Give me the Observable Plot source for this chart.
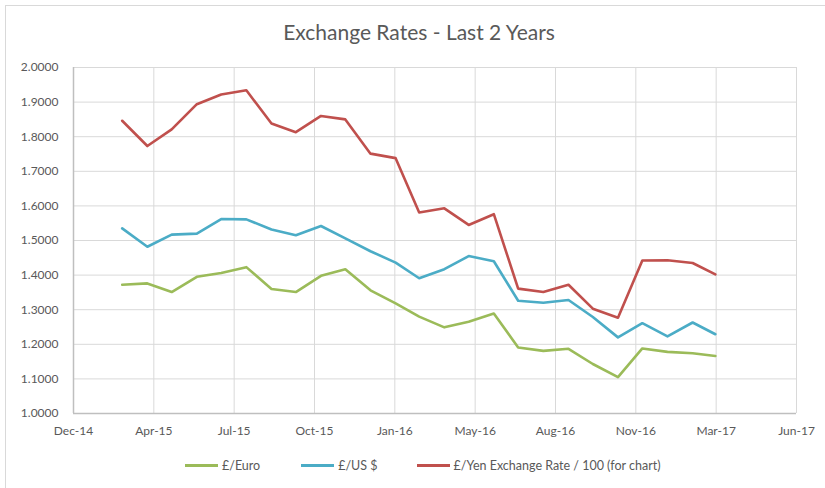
<!DOCTYPE html>
<html>
<head>
<meta charset="utf-8">
<script src="https://cdn.jsdelivr.net/npm/d3@7"></script>
<script src="https://cdn.jsdelivr.net/npm/@observablehq/plot@0.6"></script>
<style>
  body { margin: 0; background: #fff; font-family: Lato, "Open Sans", sans-serif; }
  #wrap { position: relative; width: 825px; height: 488px; overflow: hidden; }
  #frame { position: absolute; left: 5px; top: 5px; width: 900px; height: 600px; border-top: 1px solid #d9d9d9; border-left: 1px solid #d9d9d9; z-index: 5; pointer-events: none; }
  #title { position: absolute; left: 0; width: 838px; top: 19px; text-align: center; font-size: 21px; color: #595959; }
  #chart { position: absolute; left: 0; top: 50px; }
  #legend { position: absolute; top: 458px; left: 185px; display: flex; align-items: center; font-size: 12.5px; color: #595959; }
  .item { display: flex; align-items: center; margin-right: 0; }
  .swatch { width: 33px; height: 3px; margin-right: 4px; }
</style>
</head>
<body>
<div id="wrap">
  <div id="frame"></div>
  <div id="title">Exchange Rates - Last 2 Years</div>
  <div id="chart"></div>
  <div id="legend"></div>
</div>
<script>
// Monthly observation dates
const months = ["2015-03","2015-04","2015-05","2015-06","2015-07","2015-08","2015-09","2015-10","2015-11","2015-12",
  "2016-01","2016-02","2016-03","2016-04","2016-05","2016-06","2016-07","2016-08","2016-09","2016-10","2016-11","2016-12",
  "2017-01","2017-02","2017-03"];
const euro = [1.372,1.376,1.351,1.395,1.406,1.423,1.360,1.351,1.398,1.417,1.356,1.318,1.280,1.249,1.265,1.289,1.191,1.181,1.187,1.143,1.105,1.188,1.178,1.174,1.166];
const usd  = [1.535,1.482,1.517,1.520,1.562,1.561,1.532,1.515,1.542,1.506,1.469,1.436,1.391,1.417,1.455,1.440,1.326,1.320,1.328,1.279,1.220,1.261,1.223,1.263,1.229];
const yen  = [1.846,1.773,1.821,1.894,1.922,1.934,1.838,1.813,1.860,1.850,1.751,1.738,1.581,1.593,1.545,1.576,1.361,1.351,1.372,1.303,1.277,1.442,1.443,1.435,1.402];
const seriesNames = ["£/Euro", "£/US $", "£/Yen Exchange Rate / 100 (for chart)"];
const seriesColors = ["#9bbb59", "#4bacc6", "#c0504d"];
const yTicks = [1.0,1.1,1.2,1.3,1.4,1.5,1.6,1.7,1.8,1.9,2.0];
// x axis: Excel date axis starting 31 Dec 2014, major unit 99 days
const axisStart = "2014-12-31";
const axisUnitDays = 99;
const axisSteps = 9;

const parse = d3.utcParse("%Y-%m");
const start = d3.utcParse("%Y-%m-%d")(axisStart);
const xTicks = d3.range(axisSteps + 1).map(k => d3.utcDay.offset(start, k * axisUnitDays));

const rows = [];
[euro, usd, yen].forEach((vals, s) => {
  vals.forEach((v, i) => rows.push({date: parse(months[i]), value: v, series: seriesNames[s]}));
});

const plot = Plot.plot({
  width: 825,
  height: 400,
  marginTop: 17,
  marginBottom: 37,
  marginLeft: 73,
  marginRight: 29,
  style: {fontFamily: "Lato, 'Open Sans', sans-serif", fontSize: "12px", color: "#595959", background: "transparent"},
  x: {type: "utc", domain: [xTicks[0], xTicks[xTicks.length - 1]]},
  y: {domain: [1, 2]},
  color: {domain: seriesNames, range: seriesColors},
  marks: [
    Plot.gridY(yTicks, {stroke: "#d9d9d9", strokeOpacity: 1, strokeWidth: 1}),
    Plot.gridX(xTicks, {stroke: "#d9d9d9", strokeOpacity: 1, strokeWidth: 1}),
    Plot.axisY(yTicks, {tickSize: 0, tickPadding: 15, tickFormat: d3.format(".4f"), label: null, fill: "#595959"}),
    Plot.axisX(xTicks, {tickSize: 0, tickPadding: 13, tickFormat: d3.utcFormat("%b-%y"), label: null, fill: "#595959"}),
    Plot.ruleX([xTicks[0]], {stroke: "#bfbfbf", strokeWidth: 1.5}),
    Plot.ruleY([1], {stroke: "#bfbfbf", strokeWidth: 1.5}),
    Plot.line(rows, {x: "date", y: "value", z: "series", stroke: "series", strokeWidth: 2.6, strokeLinejoin: "round", strokeLinecap: "round"})
  ]
});
document.getElementById("chart").appendChild(plot);

const legend = document.getElementById("legend");
const gaps = [0, 41, 39];
seriesNames.forEach((name, i) => {
  const item = document.createElement("div");
  item.className = "item";
  item.style.marginLeft = gaps[i] + "px";
  const sw = document.createElement("div");
  sw.className = "swatch";
  sw.style.background = seriesColors[i];
  const t = document.createElement("span");
  t.textContent = name;
  item.appendChild(sw);
  item.appendChild(t);
  legend.appendChild(item);
});
</script>
</body>
</html>
